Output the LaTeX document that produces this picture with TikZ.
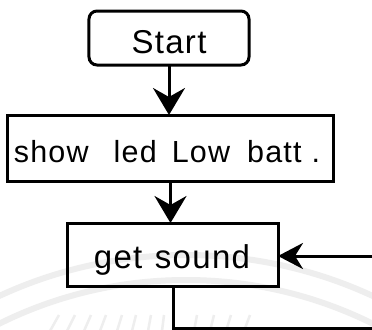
\documentclass[tikz,border=0pt]{standalone}
\usepackage{fontspec}
\setmainfont{Liberation Sans}[LetterSpace=4]
\usetikzlibrary{arrows.meta}

\tikzset{
  flow/.style={line width=3bp, black},
  box/.style={flow, draw, rectangle, inner sep=0pt, outer sep=0pt},
  roundbox/.style={box, rounded corners=8bp},
  lbl/.style={anchor=base, inner sep=0pt, font=\fontsize{33bp}{40bp}\selectfont},
  lblsmall/.style={lbl, font=\fontsize{30.5bp}{37bp}\selectfont},
  arr/.style={flow, -{Stealth[length=27bp, width=32bp, inset=9bp]}},
  harr/.style={flow, -{Stealth[length=25bp, width=26bp, inset=8bp]}},
  seal/.style={gray!13, line width=6bp},
  ray/.style={gray!13, line width=2.5bp}
}

\begin{document}
\begin{tikzpicture}[x=1bp, y=-1bp]
  \useasboundingbox (0,0) rectangle (372,330);
  \fill[white] (0,0) rectangle (372,330);

  % faint seal rings and rays in the background
  \begin{scope}
    \clip (0,0) rectangle (372,330);
    \draw[seal] (186,700) circle[radius=445];
    \draw[seal] (186,700) circle[radius=420];
    \foreach \x/\d in {50/9, 67/8, 84/7, 100/6, 117/5, 132/4, 148/3, 162/2, 194/3, 210/4, 226/5, 244/6}
      \draw[ray] (\x,331) -- ++(\d,-16);
  \end{scope}

  % process boxes
  \node[roundbox, minimum width=160bp, minimum height=54bp] (start) at (169,38) {};
  \node[lbl] (startlbl) at (169,53) {Start};

  \node[box, minimum width=325bp, minimum height=66bp] (show) at (170.5,148) {};
  \node[lblsmall] (showlbl) at (167,162)
    {show\hspace{25bp}led\hspace{15bp}Low\hspace{17bp}batt\hspace{10bp}.};

  \node[box, minimum width=210bp, minimum height=63bp] (gs) at (173,254.5) {};
  \node[lbl] (gslbl) at (172,268) {get\hspace{2bp} sound};

  % loop ends leaving the picture on the right
  \coordinate (loopin) at (372,256);
  \coordinate (loopout) at (372,328);

  % connectors
  \draw[arr] (start.south) -- (show.north -| start.south);
  \draw[arr] (show.south) -- (gs.north -| show.south);
  \draw[harr] (loopin) -- (loopin -| gs.east);
  \draw[flow] (gs.south) |- (loopout);
\end{tikzpicture}
\end{document}
